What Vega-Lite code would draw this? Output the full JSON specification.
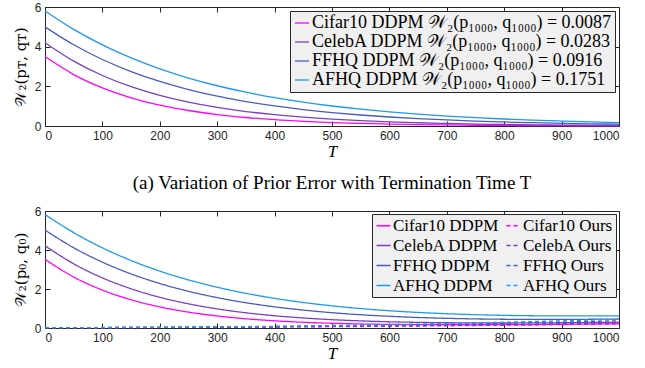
{
  "$schema": "https://vega.github.io/schema/vega-lite/v6.json",
  "background": "white",
  "padding": {"left": 12, "top": 0, "right": 20, "bottom": 0},
  "spacing": 10,
  "resolve": {"scale": {"color": "independent", "strokeDash": "independent"}, "legend": {"color": "independent", "strokeDash": "independent"}},
  "config": {
    "view": {"stroke": "#262626", "strokeWidth": 1},
    "axis": {"grid": false, "domain": false, "labelFont": "Liberation Sans", "labelFontSize": 12, "labelColor": "#262626", "tickColor": "#262626", "tickSize": -5, "labelPadding": 9, "titleColor": "#000000"},
    "legend": {"labelFont": "Liberation Serif", "labelFontSize": 17, "labelColor": "#000000", "labelLimit": 500, "fillColor": "#f0f0f0", "strokeColor": "#262626", "padding": 3, "symbolType": "stroke", "symbolSize": 196, "symbolStrokeWidth": 1.3, "rowPadding": 2, "labelOffset": 1, "title": null}
  },
  "vconcat": [
    {
      "width": 574,
      "height": 119,
      "title": {"text": "(a) Variation of Prior Error with Termination Time T", "orient": "bottom", "font": "Liberation Serif", "fontSize": 19, "fontWeight": "normal", "color": "#000000", "anchor": "middle", "offset": 15},
      "data": {"values": [
        {"T": 0, "Cifar10": 3.5, "CelebA": 4.2, "FFHQ": 5.0, "AFHQ": 5.8},
        {"T": 50, "Cifar10": 2.5929, "CelebA": 3.271, "FFHQ": 4.0937, "AFHQ": 4.8689},
        {"T": 100, "Cifar10": 1.9208, "CelebA": 2.5474, "FFHQ": 3.3516, "AFHQ": 4.0872},
        {"T": 150, "Cifar10": 1.423, "CelebA": 1.9839, "FFHQ": 2.7441, "AFHQ": 3.431},
        {"T": 200, "Cifar10": 1.0542, "CelebA": 1.5451, "FFHQ": 2.2466, "AFHQ": 2.8802},
        {"T": 250, "Cifar10": 0.781, "CelebA": 1.2033, "FFHQ": 1.8394, "AFHQ": 2.4178},
        {"T": 300, "Cifar10": 0.5785, "CelebA": 0.9371, "FFHQ": 1.506, "AFHQ": 2.0296},
        {"T": 350, "Cifar10": 0.4286, "CelebA": 0.7299, "FFHQ": 1.233, "AFHQ": 1.7038},
        {"T": 400, "Cifar10": 0.3175, "CelebA": 0.5684, "FFHQ": 1.0095, "AFHQ": 1.4303},
        {"T": 450, "Cifar10": 0.2352, "CelebA": 0.4427, "FFHQ": 0.8265, "AFHQ": 1.2006},
        {"T": 500, "Cifar10": 0.1743, "CelebA": 0.3448, "FFHQ": 0.6767, "AFHQ": 1.0079},
        {"T": 550, "Cifar10": 0.1291, "CelebA": 0.2685, "FFHQ": 0.554, "AFHQ": 0.8461},
        {"T": 600, "Cifar10": 0.0956, "CelebA": 0.2091, "FFHQ": 0.4536, "AFHQ": 0.7102},
        {"T": 650, "Cifar10": 0.0708, "CelebA": 0.1629, "FFHQ": 0.3714, "AFHQ": 0.5962},
        {"T": 700, "Cifar10": 0.0525, "CelebA": 0.1268, "FFHQ": 0.3041, "AFHQ": 0.5005},
        {"T": 750, "Cifar10": 0.0389, "CelebA": 0.0988, "FFHQ": 0.2489, "AFHQ": 0.4202},
        {"T": 800, "Cifar10": 0.0288, "CelebA": 0.0769, "FFHQ": 0.2038, "AFHQ": 0.3527},
        {"T": 850, "Cifar10": 0.0213, "CelebA": 0.0599, "FFHQ": 0.1669, "AFHQ": 0.2961},
        {"T": 900, "Cifar10": 0.0158, "CelebA": 0.0467, "FFHQ": 0.1366, "AFHQ": 0.2485},
        {"T": 950, "Cifar10": 0.0117, "CelebA": 0.0363, "FFHQ": 0.1119, "AFHQ": 0.2086},
        {"T": 1000, "Cifar10": 0.0087, "CelebA": 0.0283, "FFHQ": 0.0916, "AFHQ": 0.1751}
      ]},
      "transform": [{"fold": ["Cifar10", "CelebA", "FFHQ", "AFHQ"], "as": ["dataset", "W2"]}],
      "layer": [
        {
          "mark": {"type": "line", "strokeWidth": 1.3, "interpolate": "monotone"},
          "encoding": {
            "x": {"field": "T", "type": "quantitative", "scale": {"domain": [0, 1000], "nice": false}, "axis": {"values": [0,100,200,300,400,500,600,700,800,900,1000], "format": "d", "title": "T", "titleFont": "Liberation Serif", "titleFontStyle": "italic", "titleFontWeight": "normal", "titleFontSize": 17, "titlePadding": 2}},
            "y": {"field": "W2", "type": "quantitative", "scale": {"domain": [0, 6], "nice": false}, "axis": {"values": [0,2,4,6], "title": "𝒲₂(pᴛ, qᴛ)", "titleFont": "DejaVu Serif", "titleFontWeight": "normal", "titleFontSize": 15, "titlePadding": 6}},
            "color": {"field": "dataset", "type": "nominal", "scale": {"domain": ["Cifar10", "CelebA", "FFHQ", "AFHQ"], "range": ["#ff00ff", "#7b3fc4", "#4b5bbd", "#1a9af0"]},
              "legend": {"orient": "top-right", "offset": 4, "labelFontSize": 18, "rowPadding": 1, "labelExpr": "datum.value + ' DDPM 𝒲₂(p₁₀₀₀, q₁₀₀₀) = ' + (datum.value == 'Cifar10' ? '0.0087' : datum.value == 'CelebA' ? '0.0283' : datum.value == 'FFHQ' ? '0.0916' : '0.1751')"}}
          }
        },
        {
          "mark": {"type": "line", "opacity": 0},
          "encoding": {
            "x": {"field": "T", "type": "quantitative", "axis": {"orient": "top", "values": [0,100,200,300,400,500,600,700,800,900,1000], "labels": false, "title": null}},
            "y": {"field": "W2", "type": "quantitative", "axis": {"orient": "right", "values": [0,2,4,6], "labels": false, "title": null}}
          }
        }
      ],
      "resolve": {"axis": {"x": "independent", "y": "independent"}}
    },
    {
      "width": 574,
      "height": 117,
      "data": {"values": [
        {"T": 0, "Cifar10 DDPM": 3.52, "CelebA DDPM": 4.22, "FFHQ DDPM": 5.02, "AFHQ DDPM": 5.82, "Cifar10 Ours": 0.02, "CelebA Ours": 0.02, "FFHQ Ours": 0.02, "AFHQ Ours": 0.02},
        {"T": 50, "Cifar10 DDPM": 2.613, "CelebA DDPM": 3.292, "FFHQ DDPM": 4.115, "AFHQ DDPM": 4.89, "Cifar10 Ours": 0.02, "CelebA Ours": 0.021, "FFHQ Ours": 0.021, "AFHQ Ours": 0.021},
        {"T": 100, "Cifar10 DDPM": 1.943, "CelebA DDPM": 2.57, "FFHQ DDPM": 3.376, "AFHQ DDPM": 4.111, "Cifar10 Ours": 0.022, "CelebA Ours": 0.023, "FFHQ Ours": 0.024, "AFHQ Ours": 0.024},
        {"T": 150, "Cifar10 DDPM": 1.447, "CelebA DDPM": 2.01, "FFHQ DDPM": 2.772, "AFHQ DDPM": 3.461, "Cifar10 Ours": 0.024, "CelebA Ours": 0.026, "FFHQ Ours": 0.028, "AFHQ Ours": 0.03},
        {"T": 200, "Cifar10 DDPM": 1.082, "CelebA DDPM": 1.575, "FFHQ DDPM": 2.281, "AFHQ DDPM": 2.917, "Cifar10 Ours": 0.028, "CelebA Ours": 0.03, "FFHQ Ours": 0.034, "AFHQ Ours": 0.037},
        {"T": 250, "Cifar10 DDPM": 0.813, "CelebA DDPM": 1.239, "FFHQ DDPM": 1.881, "AFHQ DDPM": 2.465, "Cifar10 Ours": 0.032, "CelebA Ours": 0.036, "FFHQ Ours": 0.042, "AFHQ Ours": 0.047},
        {"T": 300, "Cifar10 DDPM": 0.616, "CelebA DDPM": 0.98, "FFHQ DDPM": 1.558, "AFHQ DDPM": 2.089, "Cifar10 Ours": 0.037, "CelebA Ours": 0.043, "FFHQ Ours": 0.052, "AFHQ Ours": 0.059},
        {"T": 350, "Cifar10 DDPM": 0.472, "CelebA DDPM": 0.781, "FFHQ DDPM": 1.296, "AFHQ DDPM": 1.777, "Cifar10 Ours": 0.043, "CelebA Ours": 0.051, "FFHQ Ours": 0.063, "AFHQ Ours": 0.073},
        {"T": 400, "Cifar10 DDPM": 0.368, "CelebA DDPM": 0.628, "FFHQ DDPM": 1.086, "AFHQ DDPM": 1.519, "Cifar10 Ours": 0.05, "CelebA Ours": 0.06, "FFHQ Ours": 0.076, "AFHQ Ours": 0.089},
        {"T": 450, "Cifar10 DDPM": 0.293, "CelebA DDPM": 0.514, "FFHQ DDPM": 0.918, "AFHQ DDPM": 1.308, "Cifar10 Ours": 0.058, "CelebA Ours": 0.071, "FFHQ Ours": 0.091, "AFHQ Ours": 0.107},
        {"T": 500, "Cifar10 DDPM": 0.242, "CelebA DDPM": 0.428, "FFHQ DDPM": 0.785, "AFHQ DDPM": 1.136, "Cifar10 Ours": 0.068, "CelebA Ours": 0.083, "FFHQ Ours": 0.108, "AFHQ Ours": 0.128},
        {"T": 550, "Cifar10 DDPM": 0.206, "CelebA DDPM": 0.365, "FFHQ DDPM": 0.68, "AFHQ DDPM": 0.996, "Cifar10 Ours": 0.077, "CelebA Ours": 0.096, "FFHQ Ours": 0.126, "AFHQ Ours": 0.15},
        {"T": 600, "Cifar10 DDPM": 0.184, "CelebA DDPM": 0.319, "FFHQ DDPM": 0.6, "AFHQ DDPM": 0.885, "Cifar10 Ours": 0.088, "CelebA Ours": 0.11, "FFHQ Ours": 0.146, "AFHQ Ours": 0.175},
        {"T": 650, "Cifar10 DDPM": 0.171, "CelebA DDPM": 0.289, "FFHQ DDPM": 0.539, "AFHQ DDPM": 0.798, "Cifar10 Ours": 0.1, "CelebA Ours": 0.126, "FFHQ Ours": 0.168, "AFHQ Ours": 0.202},
        {"T": 700, "Cifar10 DDPM": 0.166, "CelebA DDPM": 0.27, "FFHQ DDPM": 0.496, "AFHQ DDPM": 0.732, "Cifar10 Ours": 0.113, "CelebA Ours": 0.143, "FFHQ Ours": 0.192, "AFHQ Ours": 0.231},
        {"T": 750, "Cifar10 DDPM": 0.166, "CelebA DDPM": 0.26, "FFHQ DDPM": 0.466, "AFHQ DDPM": 0.682, "Cifar10 Ours": 0.127, "CelebA Ours": 0.161, "FFHQ Ours": 0.217, "AFHQ Ours": 0.262},
        {"T": 800, "Cifar10 DDPM": 0.171, "CelebA DDPM": 0.257, "FFHQ DDPM": 0.448, "AFHQ DDPM": 0.648, "Cifar10 Ours": 0.142, "CelebA Ours": 0.18, "FFHQ Ours": 0.244, "AFHQ Ours": 0.295},
        {"T": 850, "Cifar10 DDPM": 0.178, "CelebA DDPM": 0.261, "FFHQ DDPM": 0.44, "AFHQ DDPM": 0.627, "Cifar10 Ours": 0.157, "CelebA Ours": 0.201, "FFHQ Ours": 0.273, "AFHQ Ours": 0.331},
        {"T": 900, "Cifar10 DDPM": 0.19, "CelebA DDPM": 0.27, "FFHQ DDPM": 0.441, "AFHQ DDPM": 0.617, "Cifar10 Ours": 0.174, "CelebA Ours": 0.223, "FFHQ Ours": 0.304, "AFHQ Ours": 0.368},
        {"T": 950, "Cifar10 DDPM": 0.203, "CelebA DDPM": 0.282, "FFHQ DDPM": 0.448, "AFHQ DDPM": 0.617, "Cifar10 Ours": 0.191, "CelebA Ours": 0.246, "FFHQ Ours": 0.336, "AFHQ Ours": 0.408},
        {"T": 1000, "Cifar10 DDPM": 0.219, "CelebA DDPM": 0.298, "FFHQ DDPM": 0.462, "AFHQ DDPM": 0.625, "Cifar10 Ours": 0.21, "CelebA Ours": 0.27, "FFHQ Ours": 0.37, "AFHQ Ours": 0.45}
      ]},
      "transform": [{"fold": ["Cifar10 DDPM", "CelebA DDPM", "FFHQ DDPM", "AFHQ DDPM", "Cifar10 Ours", "CelebA Ours", "FFHQ Ours", "AFHQ Ours"], "as": ["series", "W2"]}],
      "layer": [
        {
          "mark": {"type": "line", "strokeWidth": 1.3, "interpolate": "monotone"},
          "encoding": {
            "x": {"field": "T", "type": "quantitative", "scale": {"domain": [0, 1000], "nice": false}, "axis": {"values": [0,100,200,300,400,500,600,700,800,900,1000], "format": "d", "title": "T", "titleFont": "Liberation Serif", "titleFontStyle": "italic", "titleFontWeight": "normal", "titleFontSize": 17, "titlePadding": 2}},
            "y": {"field": "W2", "type": "quantitative", "scale": {"domain": [0, 6], "nice": false}, "axis": {"values": [0,2,4,6], "title": "𝒲₂(p₀, q₀)", "titleFont": "DejaVu Serif", "titleFontWeight": "normal", "titleFontSize": 15, "titlePadding": 6}},
            "color": {"field": "series", "type": "nominal", "scale": {"domain": ["Cifar10 DDPM", "CelebA DDPM", "FFHQ DDPM", "AFHQ DDPM", "Cifar10 Ours", "CelebA Ours", "FFHQ Ours", "AFHQ Ours"], "range": ["#ff00ff", "#7b3fc4", "#4b5bbd", "#1a9af0", "#ff00ff", "#7b3fc4", "#4b5bbd", "#1a9af0"]},
              "legend": {"orient": "top-right", "offset": 3, "columns": 2, "columnPadding": 4}},
            "strokeDash": {"field": "series", "type": "nominal", "scale": {"domain": ["Cifar10 DDPM", "CelebA DDPM", "FFHQ DDPM", "AFHQ DDPM", "Cifar10 Ours", "CelebA Ours", "FFHQ Ours", "AFHQ Ours"], "range": [[1,0],[1,0],[1,0],[1,0],[4,3],[4,3],[4,3],[4,3]]},
              "legend": {"orient": "top-right", "offset": 3, "columns": 2, "columnPadding": 4}}
          }
        },
        {
          "mark": {"type": "line", "opacity": 0},
          "encoding": {
            "x": {"field": "T", "type": "quantitative", "axis": {"orient": "top", "values": [0,100,200,300,400,500,600,700,800,900,1000], "labels": false, "title": null}},
            "y": {"field": "W2", "type": "quantitative", "axis": {"orient": "right", "values": [0,2,4,6], "labels": false, "title": null}}
          }
        }
      ],
      "resolve": {"axis": {"x": "independent", "y": "independent"}}
    }
  ]
}
